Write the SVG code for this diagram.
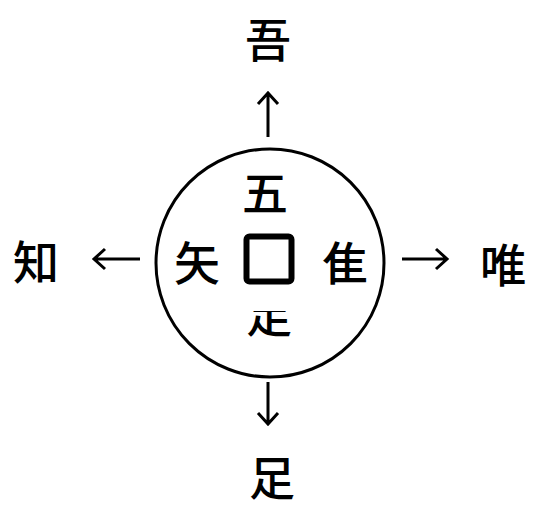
<svg xmlns="http://www.w3.org/2000/svg" width="541" height="510" viewBox="0 0 541 510">
<style>
.t{font-family:"Noto Sans CJK JP","Noto Sans CJK SC",sans-serif;font-size:46px;fill:#000;text-anchor:middle;dominant-baseline:central;font-weight:500}
.a{fill:none;stroke:#000;stroke-width:3;stroke-linecap:butt}
</style>
<defs>
<clipPath id="lowclip"><rect x="230" y="311" width="80" height="40"/></clipPath>
</defs>
<rect width="541" height="510" fill="#fff"/>
<g id="basin">
<circle cx="270" cy="263" r="114" fill="none" stroke="#000" stroke-width="3"/>
<rect x="246.5" y="236.5" width="45" height="45" rx="3" fill="none" stroke="#000" stroke-width="6"/>
</g>
<g id="n-wu"><text class="t" x="268" y="37">吾</text></g>
<g id="n-wu5"><text class="t" x="265" y="190">五</text></g>
<g id="n-shi"><text class="t" x="197" y="260">矢</text></g>
<g id="n-zhui"><text class="t" x="345" y="260">隹</text></g>
<g id="n-zulow"><text class="t" x="269" y="312" clip-path="url(#lowclip)">足</text></g>
<g id="n-chi"><text class="t" x="36" y="259">知</text></g>
<g id="n-yui"><text class="t" x="503" y="262">唯</text></g>
<g id="n-soku"><text class="t" x="272" y="475">足</text></g>
<g id="connectors">
<path class="a" d="M268 137V93M258 104L268 93L278 104"/>
<path class="a" d="M140 259H94M105 249L94 259L105 269"/>
<path class="a" d="M402 259H447M436 249L447 259L436 269"/>
<path class="a" d="M268 382V424M258 413L268 424L278 413"/>
</g>
</svg>
